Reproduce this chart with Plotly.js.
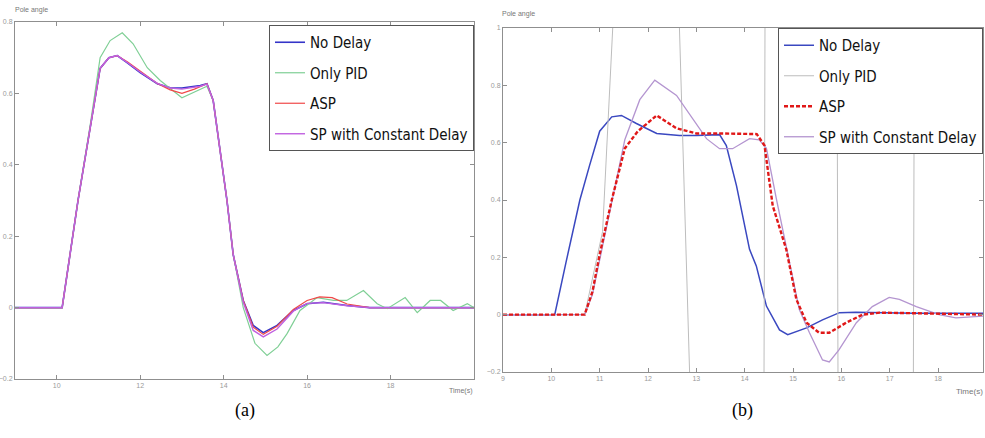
<!DOCTYPE html>
<html>
<head>
<meta charset="utf-8">
<script src="https://cdn.plot.ly/plotly-3.0.1.min.js"></script>
<style>html,body{margin:0;padding:0;background:#fff;}#chart{width:985px;height:438px;}</style>
</head>
<body>
<div id="chart"></div>
<script>
// ---------- Panel (a) ----------
const seriesNames = ["No Delay", "Only PID", "ASP", "SP with Constant Delay"];
const xTicksA = [10, 12, 14, 16, 18];
const yTicksA = [-0.2, 0, 0.2, 0.4, 0.6, 0.8];

const aNoDelayT = [9, 10.03, 10.13, 10.51, 10.80, 11.04, 11.25, 11.45, 11.7, 12.0, 12.41, 12.72, 13.0, 13.44, 13.6, 13.75, 14.08, 14.23, 14.47, 14.71, 14.95, 15.28, 15.67, 16.0, 16.39, 16.96, 17.5, 20];
const aNoDelayY = [0, 0, 0, 0.30, 0.50, 0.67, 0.70, 0.706, 0.685, 0.658, 0.627, 0.616, 0.615, 0.622, 0.627, 0.58, 0.30, 0.148, 0.02, -0.05, -0.07, -0.05, -0.008, 0.011, 0.015, 0.006, 0, 0];

const aPidT = [9, 10.03, 10.13, 10.51, 10.80, 11.04, 11.28, 11.57, 11.83, 12.17, 12.48, 13.0, 13.44, 13.6, 13.75, 14.08, 14.23, 14.47, 14.75, 15.04, 15.3, 15.52, 15.83, 16.24, 16.63, 16.95, 17.35, 17.68, 17.92, 18.35, 18.64, 18.95, 19.2, 19.5, 19.84, 20];
const aPidY = [0, 0, 0, 0.30, 0.51, 0.70, 0.748, 0.77, 0.739, 0.672, 0.636, 0.588, 0.613, 0.62, 0.58, 0.30, 0.15, 0.0, -0.10, -0.134, -0.11, -0.073, -0.008, 0.028, 0.02, 0.02, 0.048, 0.011, -0.003, 0.028, -0.014, 0.02, 0.02, -0.008, 0.011, 0];

const aAspT = [9, 10.03, 10.13, 10.51, 10.80, 11.04, 11.25, 11.45, 11.7, 12.0, 12.41, 12.72, 13.0, 13.3, 13.6, 13.75, 14.08, 14.23, 14.47, 14.71, 14.95, 15.28, 15.67, 16.0, 16.3, 16.6, 16.96, 17.5, 20];
const aAspY = [0, 0, 0, 0.30, 0.50, 0.67, 0.70, 0.706, 0.688, 0.662, 0.628, 0.61, 0.60, 0.612, 0.627, 0.58, 0.30, 0.148, 0.02, -0.055, -0.075, -0.052, -0.005, 0.02, 0.03, 0.028, 0.01, 0, 0];

const aSpT = [9, 10.03, 10.13, 10.51, 10.80, 11.04, 11.25, 11.45, 11.7, 12.0, 12.41, 12.72, 13.0, 13.44, 13.6, 13.75, 14.08, 14.23, 14.47, 14.71, 14.95, 15.28, 15.67, 16.0, 16.39, 16.96, 17.5, 20];
const aSpY = [0, 0, 0, 0.30, 0.50, 0.67, 0.70, 0.706, 0.686, 0.66, 0.628, 0.615, 0.612, 0.62, 0.626, 0.58, 0.30, 0.148, 0.015, -0.064, -0.082, -0.06, -0.01, 0.012, 0.014, 0.005, 0, 0];

// ---------- Panel (b) ----------
const xTicksB = [9, 10, 11, 12, 13, 14, 15, 16, 17, 18];
const yTicksB = [-0.2, 0, 0.2, 0.4, 0.6, 0.8, 1.0];

const bNoDelayT = [9, 10.07, 10.3, 10.59, 10.79, 11.0, 11.25, 11.45, 11.76, 12.18, 12.65, 13.0, 13.48, 13.62, 13.83, 14.1, 14.24, 14.45, 14.72, 14.89, 15.28, 15.61, 15.96, 16.3, 17.5, 19];
const bNoDelayY = [0, 0, 0.18, 0.40, 0.52, 0.64, 0.69, 0.695, 0.667, 0.632, 0.625, 0.625, 0.628, 0.59, 0.45, 0.228, 0.17, 0.03, -0.053, -0.07, -0.046, -0.018, 0.007, 0.008, 0.005, 0.005];

const bPidT = [9, 10.69, 11.06, 11.27, 11.6, 12.4, 12.65, 12.86, 13.2, 14.0, 14.40, 14.42, 14.8, 15.6, 15.91, 15.93, 16.3, 17.2, 17.49, 17.51, 17.9, 19];
const bPidY = [0, 0, 0.29, 1.0, 2.2, 2.2, 1.0, -0.2, -1.6, -1.6, -0.2, 1.0, 2.6, 2.6, 1.0, -0.2, -2.8, -2.8, -0.2, 1.0, 3.0, 3.0];

const bAspT = [9, 10.69, 10.85, 11.0, 11.25, 11.52, 11.79, 12.18, 12.59, 13.0, 13.5, 14.1, 14.25, 14.41, 14.58, 14.86, 15.07, 15.28, 15.54, 15.75, 16.1, 16.44, 16.79, 17.5, 18.5, 19];
const bAspY = [0, 0, 0.08, 0.21, 0.40, 0.58, 0.64, 0.695, 0.65, 0.632, 0.632, 0.632, 0.63, 0.59, 0.38, 0.228, 0.053, -0.028, -0.063, -0.063, -0.028, 0.0, 0.007, 0.005, 0.003, 0];

const bSpT = [9, 10.69, 10.85, 11.0, 11.25, 11.52, 11.83, 12.14, 12.59, 12.93, 13.21, 13.48, 13.75, 14.1, 14.3, 14.45, 14.66, 15.13, 15.34, 15.61, 15.75, 15.95, 16.31, 16.64, 16.99, 17.2, 17.55, 18.02, 18.37, 19];
const bSpY = [0, 0, 0.07, 0.19, 0.40, 0.61, 0.75, 0.818, 0.765, 0.684, 0.614, 0.579, 0.579, 0.614, 0.61, 0.58, 0.40, 0.018, -0.063, -0.158, -0.165, -0.123, -0.028, 0.028, 0.06, 0.053, 0.028, 0.0, -0.011, -0.004];

const colorsA = ["#3535c8", "#7fcf95", "#f04848", "#c060e0"];
const colorsB = ["#3a48c0", "#bdbdbd", "#e01818", "#b495d0"];

function tr(x, y, name, color, width, xa, ya, lg, grp, rank, dash) {
  return {x: x, y: y, name: name, type: "scatter", mode: "lines",
    line: {color: color, width: width, dash: dash || "solid"},
    xaxis: xa, yaxis: ya, legend: lg, legendgroup: grp, legendrank: rank, hoverinfo: "skip"};
}

const traces = [
  tr(aNoDelayT, aNoDelayY, seriesNames[0], colorsA[0], 1.6, "x", "y", "legend", "a0", 1),
  tr(aPidT, aPidY, seriesNames[1], colorsA[1], 1.2, "x", "y", "legend", "a1", 2),
  tr(aAspT, aAspY, seriesNames[2], colorsA[2], 1.2, "x", "y", "legend", "a2", 3),
  tr(aSpT, aSpY, seriesNames[3], colorsA[3], 1.4, "x", "y", "legend", "a3", 4),
  tr(bNoDelayT, bNoDelayY, seriesNames[0], colorsB[0], 1.5, "x2", "y2", "legend2", "b0", 1),
  tr(bPidT, bPidY, seriesNames[1], colorsB[1], 1.0, "x2", "y2", "legend2", "b1", 2),
  tr(bSpT, bSpY, seriesNames[3], colorsB[3], 1.3, "x2", "y2", "legend2", "b3", 4),
  tr(bAspT, bAspY, seriesNames[2], colorsB[2], 2.4, "x2", "y2", "legend2", "b2", 3, "4px,2px")
];

const axisCommon = {
  showline: true, mirror: "ticks", linecolor: "#8f8f8f", linewidth: 1,
  ticks: "inside", ticklen: 4, tickcolor: "#8f8f8f",
  showgrid: false, zeroline: false, fixedrange: true,
  tickfont: {size: 7, color: "#9a9a9a", family: "Liberation Sans"}
};

const legendCommon = {
  bgcolor: "#ffffff", bordercolor: "#555555", borderwidth: 1,
  font: {family: "Liberation Sans Narrow, DejaVu Sans Condensed, sans-serif", size: 15, color: "#111"},
  itemwidth: 30, tracegroupgap: 8, yanchor: "top", xanchor: "right",
  traceorder: "grouped"
};

const layout = {
  width: 985, height: 438,
  margin: {l: 0, r: 0, t: 0, b: 0},
  paper_bgcolor: "#ffffff", plot_bgcolor: "#ffffff",
  showlegend: true,
  xaxis: Object.assign({}, axisCommon, {domain: [15/985, 474/985], range: [9, 20], tickvals: xTicksA, anchor: "y"}),
  yaxis: Object.assign({}, axisCommon, {domain: [1-379/438, 1-22/438], range: [-0.2, 0.8], tickvals: yTicksA, anchor: "x"}),
  xaxis2: Object.assign({}, axisCommon, {domain: [503/985, 983/985], range: [9, 18.93], tickvals: xTicksB, anchor: "y2"}),
  yaxis2: Object.assign({}, axisCommon, {domain: [1-372/438, 1-28/438], range: [-0.2, 1.0], tickvals: yTicksB, anchor: "x2"}),
  legend: Object.assign({}, legendCommon, {x: 474/985, y: 1-25/438}),
  legend2: Object.assign({}, legendCommon, {x: 983/985, y: 1-28/438}),
  annotations: [
    {text: "Pole angle", xref: "paper", yref: "paper", x: 13/985, y: 1-16/438, xanchor: "left", yanchor: "bottom", showarrow: false, font: {size: 7, color: "#777", family: "Liberation Sans"}},
    {text: "Pole angle", xref: "paper", yref: "paper", x: 500/985, y: 1-20/438, xanchor: "left", yanchor: "bottom", showarrow: false, font: {size: 7, color: "#777", family: "Liberation Sans"}},
    {text: "Time(s)", xref: "paper", yref: "paper", x: 474/985, y: 1-385/438, xanchor: "right", yanchor: "top", showarrow: false, font: {size: 7, color: "#777", family: "Liberation Sans"}},
    {text: "Time(s)", xref: "paper", yref: "paper", x: 985/985, y: 1-385/438, xanchor: "right", yanchor: "top", showarrow: false, font: {size: 8, color: "#777", family: "Liberation Sans"}},
    {text: "(a)", xref: "paper", yref: "paper", x: 245/985, y: 1-410/438, xanchor: "center", yanchor: "middle", showarrow: false, font: {size: 18, color: "#000", family: "Liberation Serif, Times New Roman, serif"}},
    {text: "(b)", xref: "paper", yref: "paper", x: 742/985, y: 1-410/438, xanchor: "center", yanchor: "middle", showarrow: false, font: {size: 18, color: "#000", family: "Liberation Serif, Times New Roman, serif"}}
  ]
};

Plotly.newPlot("chart", traces, layout, {displayModeBar: false, staticPlot: true});
</script>
</body>
</html>
